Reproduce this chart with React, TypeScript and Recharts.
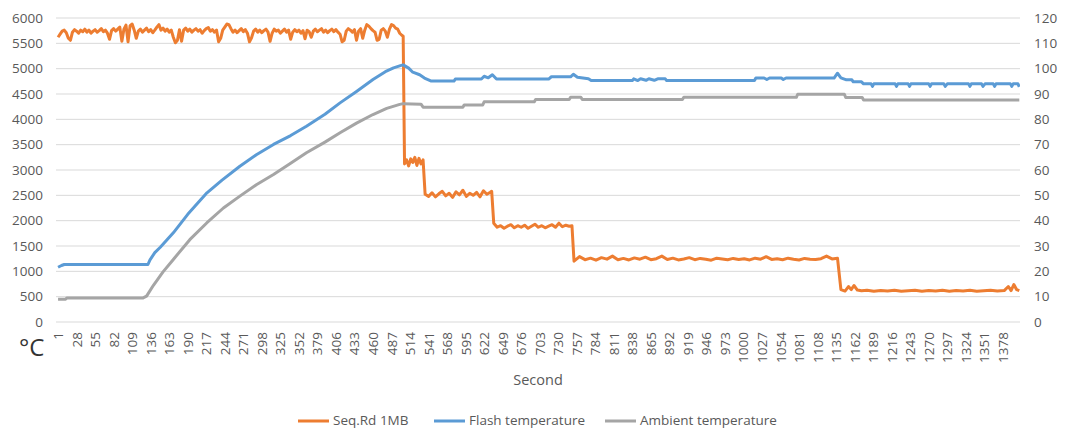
import React from 'react';
import { LineChart, Line, XAxis, YAxis, CartesianGrid } from 'recharts';

// ---- Data ----
const xTickLabels = [1, 28, 55, 82, 109, 136, 163, 190, 217, 244, 271, 298, 325, 352, 379, 406, 433, 460, 487, 514, 541, 568, 595, 622, 649, 676, 703, 730, 757, 784, 811, 838, 865, 892, 919, 946, 973, 1000, 1027, 1054, 1081, 1108, 1135, 1162, 1189, 1216, 1243, 1270, 1297, 1324, 1351, 1378];
const leftTicks = [0, 500, 1000, 1500, 2000, 2500, 3000, 3500, 4000, 4500, 5000, 5500, 6000];
const rightTicks = [0, 10, 20, 30, 40, 50, 60, 70, 80, 90, 100, 110, 120];

// Seq.Rd 1MB, first phase: samples every 3 seconds starting at second 1
const seqRdPhase1Start = 1;
const seqRdPhase1Step = 3;
const seqRdPhase1Values = [
  5620, 5680, 5740, 5760, 5710, 5600, 5560, 5720, 5770, 5740,
  5700, 5760, 5730, 5780, 5720, 5760, 5700, 5740, 5770, 5720,
  5750, 5790, 5730, 5760, 5700, 5580, 5750, 5790, 5740, 5780,
  5820, 5540, 5780, 5860, 5530, 5850, 5880, 5760, 5600, 5740,
  5780, 5720, 5760, 5800, 5730, 5770, 5710, 5760, 5820, 5870,
  5760, 5800, 5740, 5780, 5720, 5760, 5620, 5510, 5560, 5770,
  5540, 5760, 5800, 5740, 5780, 5720, 5760, 5790, 5740, 5770,
  5700, 5750, 5790, 5810, 5740, 5770, 5720, 5760, 5530, 5600,
  5760, 5820, 5880, 5870, 5790, 5720, 5760, 5710, 5750, 5790,
  5730, 5770, 5700, 5530, 5610, 5740, 5780, 5720, 5760, 5710,
  5750, 5780, 5720, 5540, 5700, 5780, 5740, 5760, 5700, 5740,
  5780, 5720, 5760, 5580, 5720, 5770, 5730, 5760, 5700, 5750,
  5590, 5760, 5730, 5620, 5740, 5780, 5730, 5760, 5790, 5720,
  5760, 5710, 5750, 5780, 5730, 5770, 5720, 5680, 5530, 5560,
  5740, 5790, 5760, 5720, 5770, 5560, 5740, 5790, 5600, 5760,
  5870, 5840, 5790, 5750, 5720, 5560, 5580, 5760, 5790, 5740,
  5620, 5780, 5870, 5850, 5800, 5780, 5700,
];

// Seq.Rd 1MB after the first drop: [second, MB/s]
const seqRdLater: [number, number][] = [
  [502, 5660], [504, 5640],
  [506, 3120], [509, 3200], [512, 3080], [515, 3220], [518, 3150], [521, 3250], [524, 3090], [527, 3230], [530, 3120], [533, 3200],
  [536, 2520], [541, 2480], [546, 2550], [551, 2470], [556, 2530], [561, 2580], [566, 2490], [571, 2540], [576, 2460], [581, 2570],
  [586, 2510], [591, 2600], [596, 2480], [601, 2540], [606, 2500], [611, 2560], [616, 2470], [621, 2590], [626, 2520], [631, 2560], [633, 2580],
  [636, 1950], [641, 1870], [646, 1900], [651, 1850], [656, 1890], [661, 1920], [666, 1860], [671, 1900], [676, 1870], [681, 1910],
  [686, 1850], [691, 1890], [696, 1930], [701, 1870], [706, 1900], [711, 1860], [716, 1890], [721, 1920], [726, 1870], [731, 1950],
  [736, 1880], [741, 1910], [746, 1890], [750, 1900],
  [753, 1200], [761, 1290], [769, 1230], [777, 1260], [785, 1220], [793, 1270], [801, 1240], [809, 1300], [817, 1230], [825, 1255],
  [833, 1225], [841, 1265], [849, 1240], [857, 1280], [865, 1230], [873, 1250], [881, 1300], [889, 1235], [897, 1260], [905, 1225],
  [913, 1245], [921, 1270], [929, 1230], [937, 1255], [945, 1240], [953, 1220], [961, 1260], [969, 1245], [977, 1230], [985, 1255],
  [993, 1235], [1001, 1250], [1009, 1225], [1017, 1260], [1025, 1240], [1033, 1290], [1041, 1235], [1049, 1250], [1057, 1230], [1065, 1260],
  [1073, 1240], [1081, 1225], [1089, 1255], [1097, 1240], [1105, 1235], [1113, 1250], [1121, 1300], [1129, 1245], [1137, 1260],
  [1142, 640], [1148, 610], [1153, 700], [1157, 640], [1161, 720], [1166, 630], [1172, 615], [1180, 625], [1190, 605], [1200, 620],
  [1210, 610], [1220, 625], [1230, 605], [1240, 615], [1250, 625], [1260, 605], [1270, 620], [1280, 610], [1290, 625], [1300, 605],
  [1310, 620], [1320, 610], [1330, 625], [1340, 605], [1350, 615], [1360, 625], [1370, 610], [1380, 620], [1386, 700], [1390, 620],
  [1394, 740], [1398, 640], [1402, 620],
];

// Flash temperature (right axis): [second, °C]
const flashTemp: [number, number][] = [
  [1, 21.6], [6, 22.3], [10, 22.7], [132, 22.7], [135, 24.5], [142, 27.4], [150, 29.5], [169, 35.2], [190, 42.5], [218, 51.0],
  [240, 56.0], [266, 61.5], [290, 66.0], [315, 70.1], [340, 73.6], [363, 77.3], [390, 82.0], [412, 86.5], [436, 91.0], [460, 95.7],
  [478, 98.8], [490, 100.3], [500, 101.2], [504, 101.5], [512, 100.2], [518, 98.6], [528, 97.6], [535, 96.3], [545, 95.1], [578, 95.1],
  [580, 95.9], [618, 95.9], [622, 97.0], [628, 96.4], [634, 97.6], [640, 95.9], [716, 95.9], [720, 96.8], [748, 96.8], [752, 97.8],
  [758, 96.6], [774, 96.0], [778, 95.3], [838, 95.3], [840, 96.0], [846, 95.3], [850, 96.0], [858, 95.4], [862, 96.0], [870, 95.4],
  [875, 96.0], [886, 96.0], [888, 95.3], [1016, 95.3], [1018, 96.3], [1030, 96.3], [1034, 95.7], [1038, 96.3], [1055, 96.3], [1058, 95.7],
  [1062, 96.3], [1132, 96.3], [1137, 98.2], [1142, 96.4], [1150, 95.6], [1158, 95.6], [1160, 94.8], [1172, 94.8], [1175, 94.0], [1186, 94.0],
  [1188, 93.0], [1190, 94.0], [1221, 94.0], [1223, 93.0], [1225, 94.0], [1240, 94.0], [1242, 93.0], [1244, 94.0], [1270, 94.0], [1272, 93.0],
  [1274, 94.0], [1292, 94.0], [1294, 93.0], [1297, 94.0], [1328, 94.0], [1330, 93.0], [1332, 94.0], [1347, 94.0], [1349, 93.0], [1352, 94.0],
  [1364, 94.0], [1366, 93.0], [1368, 94.0], [1389, 94.0], [1391, 93.0], [1393, 94.0], [1400, 94.0], [1402, 92.8],
];

// Ambient temperature (right axis): [second, °C]
const ambientTemp: [number, number][] = [
  [1, 9.0], [12, 9.0], [14, 9.5], [125, 9.5], [130, 10.2], [140, 14.5], [154, 19.8], [169, 24.7], [193, 32.5], [218, 39.2],
  [242, 45.0], [266, 49.7], [290, 54.2], [315, 58.2], [340, 62.7], [363, 66.8], [390, 71.0], [412, 74.7], [436, 78.5], [460, 81.9],
  [480, 84.3], [499, 85.9], [504, 86.2], [530, 86.0], [533, 84.8], [591, 84.8], [593, 85.7], [620, 85.7], [622, 86.9], [695, 86.9],
  [697, 87.8], [746, 87.8], [748, 88.7], [763, 88.7], [765, 87.8], [911, 87.8], [913, 88.7], [1077, 88.7], [1079, 89.9], [1147, 89.9],
  [1149, 88.6], [1173, 88.6], [1175, 87.6], [1402, 87.6],
];

const seqRd: [number, number][] = [
  ...seqRdPhase1Values.map((v, i) => [seqRdPhase1Start + i * seqRdPhase1Step, v] as [number, number]),
  ...seqRdLater,
];

const series = [
  { name: 'Seq.Rd 1MB', color: '#ED7D31', points: seqRd, axis: 'left' },
  { name: 'Flash temperature', color: '#5B9BD5', points: flashTemp, axis: 'right' },
  { name: 'Ambient temperature', color: '#A5A5A5', points: ambientTemp, axis: 'right' },
];

const legendLayout = [
  { lineX: 298, textX: 333 },
  { lineX: 434, textX: 469 },
  { lineX: 605, textX: 640 },
];

const FONT = "'Open Sans', 'Noto Sans', sans-serif";
const TICK_COLOR = '#595959';

const XTick = (props: any) => {
  const { x, payload } = props;
  const y = 332;
  return (
    <text
      x={x}
      y={y}
      transform={`rotate(-90 ${x} ${y})`}
      textAnchor="end"
      dominantBaseline="central"
      fill={TICK_COLOR}
      fontSize={13.5}
      fontFamily={FONT}
    >
      {payload.value}
    </text>
  );
};

export default function App() {
  const W = 1072;
  const H = 429;
  return (
    <div style={{ position: 'absolute', left: 0, top: 0, width: W, height: H, background: '#fff', overflow: 'hidden' }}>
      <LineChart width={W} height={H} margin={{ top: 18, right: 0, bottom: 0, left: 0 }}>
        <CartesianGrid horizontal vertical={false} stroke="#D9D9D9" strokeWidth={1} yAxisId="left" />
        <XAxis
          dataKey="s"
          type="number"
          domain={[-2, 1403]}
          ticks={xTickLabels}
          interval={0}
          allowDataOverflow
          axisLine={false}
          tickLine={false}
          height={107}
          tick={<XTick />}
        />
        <YAxis
          yAxisId="left"
          orientation="left"
          domain={[0, 6000]}
          ticks={leftTicks}
          interval={0}
          width={56}
          axisLine={false}
          tickLine={false}
          tickSize={0}
          tickMargin={13}
          tick={{ fill: TICK_COLOR, fontSize: 13.5, fontFamily: FONT }}
        />
        <YAxis
          yAxisId="right"
          orientation="right"
          domain={[0, 120]}
          ticks={rightTicks}
          interval={0}
          width={52}
          axisLine={false}
          tickLine={false}
          tickSize={0}
          tickMargin={14}
          tick={{ fill: TICK_COLOR, fontSize: 13.5, fontFamily: FONT, textAnchor: 'start' }}
        />
        {series.map((sr) => (
          <Line
            key={sr.name}
            name={sr.name}
            yAxisId={sr.axis}
            data={sr.points.map(([s, v]) => ({ s, v }))}
            dataKey="v"
            type="linear"
            stroke={sr.color}
            strokeWidth={3}
            dot={false}
            activeDot={false}
            isAnimationActive={false}
            strokeLinejoin="round"
          />
        ))}
      </LineChart>
      <svg width={W} height={H} style={{ position: 'absolute', left: 0, top: 0, pointerEvents: 'none' }}>
        <text x={19} y={356} fontSize={24} fontFamily={FONT} fill="#333">°C</text>
        <text x={538} y={385} textAnchor="middle" fontSize={14.5} fontFamily={FONT} fill={TICK_COLOR}>Second</text>
        {series.map((sr, i) => (
          <g key={sr.name}>
            <line x1={legendLayout[i].lineX} x2={legendLayout[i].lineX + 31} y1={421} y2={421} stroke={sr.color} strokeWidth={3} />
            <text x={legendLayout[i].textX} y={425} fontSize={13.5} fontFamily={FONT} fill={TICK_COLOR}>{sr.name}</text>
          </g>
        ))}
      </svg>
    </div>
  );
}
